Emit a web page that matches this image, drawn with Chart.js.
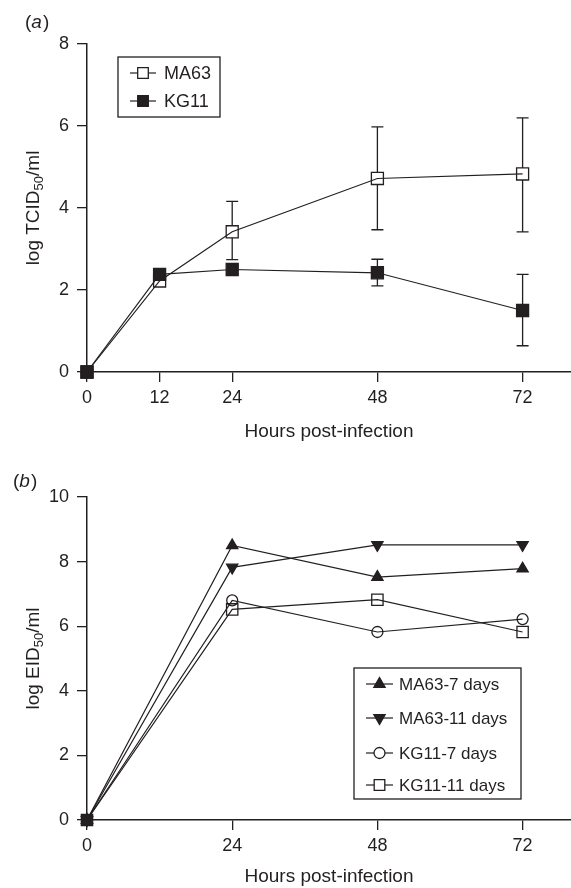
<!DOCTYPE html>
<html>
<head>
<meta charset="utf-8">
<script src="https://cdn.jsdelivr.net/npm/chart.js@4.4.0/dist/chart.umd.min.js"></script>
<style>
  html, body { margin: 0; padding: 0; background: #fff; }
  .panel { position: absolute; left: 0; width: 571px; height: 444px; }
  #panelA { top: 0; }
  #panelB { top: 444px; }
</style>
</head>
<body>
<div class="panel" id="panelA"><canvas id="chartA"></canvas></div>
<div class="panel" id="panelB"><canvas id="chartB"></canvas></div>
<script>
// ========================================
// DATA
// ========================================
// (a) TCID50 in cell culture
const hoursA = [0, 12, 24, 48, 72];
const ma63Titer = [0, 2.22, 3.42, 4.72, 4.83];
const ma63Low = [0, 2.1, 2.74, 3.47, 3.42];
const ma63High = [0, 2.22, 4.16, 5.98, 6.2];
const kg11Titer = [0, 2.38, 2.5, 2.42, 1.5];
const kg11Low = [0, 2.38, 2.5, 2.1, 0.64];
const kg11High = [0, 2.38, 2.5, 2.75, 2.38];
const xTicksA = [0, 12, 24, 48, 72];
const yTicksA = [0, 2, 4, 6, 8];

// (b) EID50 in eggs
const hoursB = [0, 24, 48, 72];
const ma63Day7 = [0, 8.5, 7.52, 7.78];
const ma63Day11 = [0, 7.82, 8.52, 8.52];
const kg11Day7 = [0, 6.8, 5.82, 6.22];
const kg11Day11 = [0, 6.52, 6.82, 5.82];
const xTicksB = [0, 24, 48, 72];
const yTicksB = [0, 2, 4, 6, 8, 10];

const INK = "#231f20";
const FONT = "'Liberation Sans', Arial, Helvetica, sans-serif";
const HOLLOW = "rgba(255,255,255,0)";

function toPoints(xs, ys) {
  return xs.map((x, i) => ({ x: x, y: ys[i] }));
}

// ========================================
// PLUGINS
// ========================================

// Thanh sai số (error bars), bỏ phần nằm trong marker
const errorBarPlugin = {
  id: "errorBars",
  beforeDatasetsDraw(chart) {
    const ctx = chart.ctx;
    const xs = chart.scales.x;
    const ys = chart.scales.y;
    ctx.save();
    ctx.strokeStyle = INK;
    ctx.lineWidth = 1.3;
    chart.data.datasets.forEach((ds) => {
      if (!ds.errLow) return;
      ds.data.forEach((p, i) => {
        const px = xs.getPixelForValue(p.x);
        const py = ys.getPixelForValue(p.y);
        const hi = ys.getPixelForValue(ds.errHigh[i]);
        const lo = ys.getPixelForValue(ds.errLow[i]);
        const gap = 6;
        ctx.beginPath();
        if (py - hi > gap) {
          ctx.moveTo(px, py - gap); ctx.lineTo(px, hi);
          ctx.moveTo(px - 6, hi); ctx.lineTo(px + 6, hi);
        }
        if (lo - py > gap) {
          ctx.moveTo(px, py + gap); ctx.lineTo(px, lo);
          ctx.moveTo(px - 6, lo); ctx.lineTo(px + 6, lo);
        }
        ctx.stroke();
      });
    });
    ctx.restore();
  },
};

// Chú thích trong khung, nhãn trục y có chỉ số dưới, nhãn panel
const decorPlugin = {
  id: "decor",
  afterDraw(chart, args, opts) {
    const ctx = chart.ctx;
    const area = chart.chartArea;
    ctx.save();

    // Panel label "(a)" / "(b)"
    ctx.fillStyle = INK;
    ctx.textBaseline = "middle";
    ctx.textAlign = "left";
    let x = opts.panel.x;
    ctx.font = `19px ${FONT}`;
    ctx.fillText("(", x, opts.panel.y);
    x += ctx.measureText("(").width;
    ctx.font = `italic 19px ${FONT}`;
    ctx.fillText(opts.panel.letter, x, opts.panel.y);
    x += ctx.measureText(opts.panel.letter).width + 1;
    ctx.font = `19px ${FONT}`;
    ctx.fillText(")", x, opts.panel.y);

    // Y-axis title with subscript
    const parts = [
      { t: opts.yTitle[0], size: 19, dy: 0 },
      { t: opts.yTitle[1], size: 13, dy: 5 },
      { t: opts.yTitle[2], size: 19, dy: 0 },
    ];
    let total = 0;
    parts.forEach((p) => {
      ctx.font = `${p.size}px ${FONT}`;
      p.w = ctx.measureText(p.t).width;
      total += p.w;
    });
    ctx.translate(opts.yTitleX, (area.top + area.bottom) / 2);
    ctx.rotate(-Math.PI / 2);
    let tx = -total / 2;
    parts.forEach((p) => {
      ctx.font = `${p.size}px ${FONT}`;
      ctx.fillText(p.t, tx, p.dy);
      tx += p.w;
    });
    ctx.setTransform(1, 0, 0, 1, 0, 0);
    ctx.restore();

    // Legend box
    const lg = opts.legend;
    ctx.save();
    ctx.strokeStyle = INK;
    ctx.lineWidth = 1.3;
    ctx.strokeRect(lg.x, lg.y, lg.w, lg.h);
    chart.data.datasets.forEach((ds, i) => {
      const ry = lg.rows[i];
      ctx.strokeStyle = INK;
      ctx.lineWidth = 1.2;
      ctx.beginPath();
      ctx.moveTo(lg.x1, ry);
      ctx.lineTo(lg.x2, ry);
      ctx.stroke();
      const mx = (lg.x1 + lg.x2) / 2;
      ctx.fillStyle = ds.legendFill;
      ctx.lineWidth = 1.3;
      Chart.helpers.drawPoint(ctx, {
        pointStyle: ds.pointStyle,
        radius: ds.legendRadius,
        rotation: ds.pointRotation || 0,
        borderWidth: 1.3,
      }, mx, ry);
      ctx.fillStyle = INK;
      ctx.font = `${lg.size}px ${FONT}`;
      ctx.textBaseline = "middle";
      ctx.textAlign = "left";
      ctx.fillText(ds.label, lg.tx, ry + 1);
    });
    ctx.restore();
  },
};

// ========================================
// OPTIONS
// ========================================
function buildOptions(cfg) {
  return {
    responsive: true,
    maintainAspectRatio: false,
    animation: false,
    layout: { autoPadding: false, padding: { top: cfg.padTop, right: 0, bottom: 0, left: 0 } },
    plugins: {
      legend: { display: false },
      tooltip: { enabled: false },
      decor: cfg.decor,
    },
    scales: {
      x: {
        type: "linear",
        min: 0,
        max: 80,
        afterBuildTicks: (s) => { s.ticks = cfg.xTicks.map((v) => ({ value: v })); },
        afterFit: (s) => {
          s.height = cfg.xHeight;
          s.paddingLeft = 0;
          s.paddingRight = 0;
        },
        grid: { display: true, drawOnChartArea: false, drawTicks: true, tickLength: 10, color: INK, lineWidth: 1.3 },
        border: { display: true, color: INK, width: 1.5 },
        ticks: { color: INK, font: { family: FONT, size: 18 }, padding: 5, maxRotation: 0, autoSkip: false },
        title: { display: true, text: "Hours post-infection", color: INK, font: { family: FONT, size: 19 }, padding: { top: 0, bottom: cfg.titlePad } },
      },
      y: {
        min: 0,
        max: cfg.yMax,
        afterBuildTicks: (s) => { s.ticks = cfg.yTicks.map((v) => ({ value: v })); },
        afterFit: (s) => {
          s.width = 87;
          s.paddingTop = 0;
          s.paddingBottom = 0;
        },
        grid: { display: true, drawOnChartArea: false, drawTicks: true, tickLength: 10, color: INK, lineWidth: 1.3 },
        border: { display: true, color: INK, width: 1.5 },
        ticks: { color: INK, font: { family: FONT, size: 18 }, padding: 8 },
      },
    },
  };
}

function lineSet(label, xs, ys, extra) {
  return Object.assign({
    label: label,
    data: toPoints(xs, ys),
    borderColor: INK,
    borderWidth: 1.2,
    pointBorderColor: INK,
    pointBorderWidth: 1.3,
    tension: 0,
    clip: false,
  }, extra);
}

// ========================================
// CHART (a)
// ========================================
new Chart(document.getElementById("chartA"), {
  type: "line",
  data: {
    datasets: [
      lineSet("MA63", hoursA, ma63Titer, {
        pointStyle: "rect", pointRadius: 8.5, pointBackgroundColor: HOLLOW,
        legendFill: "#fff", legendRadius: 7.5,
        errLow: ma63Low, errHigh: ma63High, order: 1,
      }),
      lineSet("KG11", hoursA, kg11Titer, {
        pointStyle: "rect", pointRadius: 8.5, pointBackgroundColor: INK,
        legendFill: INK, legendRadius: 7.5,
        errLow: kg11Low, errHigh: kg11High, order: 0,
      }),
    ],
  },
  options: buildOptions({
    padTop: 44, xHeight: 72, titlePad: 1, yMax: 8,
    xTicks: xTicksA, yTicks: yTicksA,
    decor: {
      panel: { letter: "a", x: 25, y: 23 },
      yTitle: ["log TCID", "50", "/ml"],
      yTitleX: 34,
      legend: { x: 118, y: 57, w: 102, h: 60, rows: [73, 101], x1: 130, x2: 156, tx: 164, size: 18 },
    },
  }),
  plugins: [errorBarPlugin, decorPlugin],
});

// ========================================
// CHART (b)
// ========================================
new Chart(document.getElementById("chartB"), {
  type: "line",
  data: {
    datasets: [
      lineSet("MA63-7 days", hoursB, ma63Day7, {
        pointStyle: "triangle", pointRadius: 6.5, pointBackgroundColor: INK,
        legendFill: INK, legendRadius: 6.5, order: 3,
      }),
      lineSet("MA63-11 days", hoursB, ma63Day11, {
        pointStyle: "triangle", pointRotation: 180, pointRadius: 6.5, pointBackgroundColor: INK,
        legendFill: INK, legendRadius: 6.5, order: 2,
      }),
      lineSet("KG11-7 days", hoursB, kg11Day7, {
        pointStyle: "circle", pointRadius: 5.5, pointBackgroundColor: HOLLOW,
        legendFill: "#fff", legendRadius: 5.5, order: 1,
      }),
      lineSet("KG11-11 days", hoursB, kg11Day11, {
        pointStyle: "rect", pointRadius: 8,
        pointBackgroundColor: (c) => (c.dataIndex === 0 ? INK : HOLLOW),
        legendFill: "#fff", legendRadius: 7.5, order: 0,
      }),
    ],
  },
  options: buildOptions({
    padTop: 53, xHeight: 68, titlePad: 0, yMax: 10,
    xTicks: xTicksB, yTicks: yTicksB,
    decor: {
      panel: { letter: "b", x: 13, y: 38 },
      yTitle: ["log EID", "50", "/ml"],
      yTitleX: 34,
      legend: { x: 354, y: 224, w: 167, h: 131, rows: [240, 274, 309, 341], x1: 366, x2: 393, tx: 399, size: 17 },
    },
  }),
  plugins: [decorPlugin],
});
</script>
</body>
</html>
